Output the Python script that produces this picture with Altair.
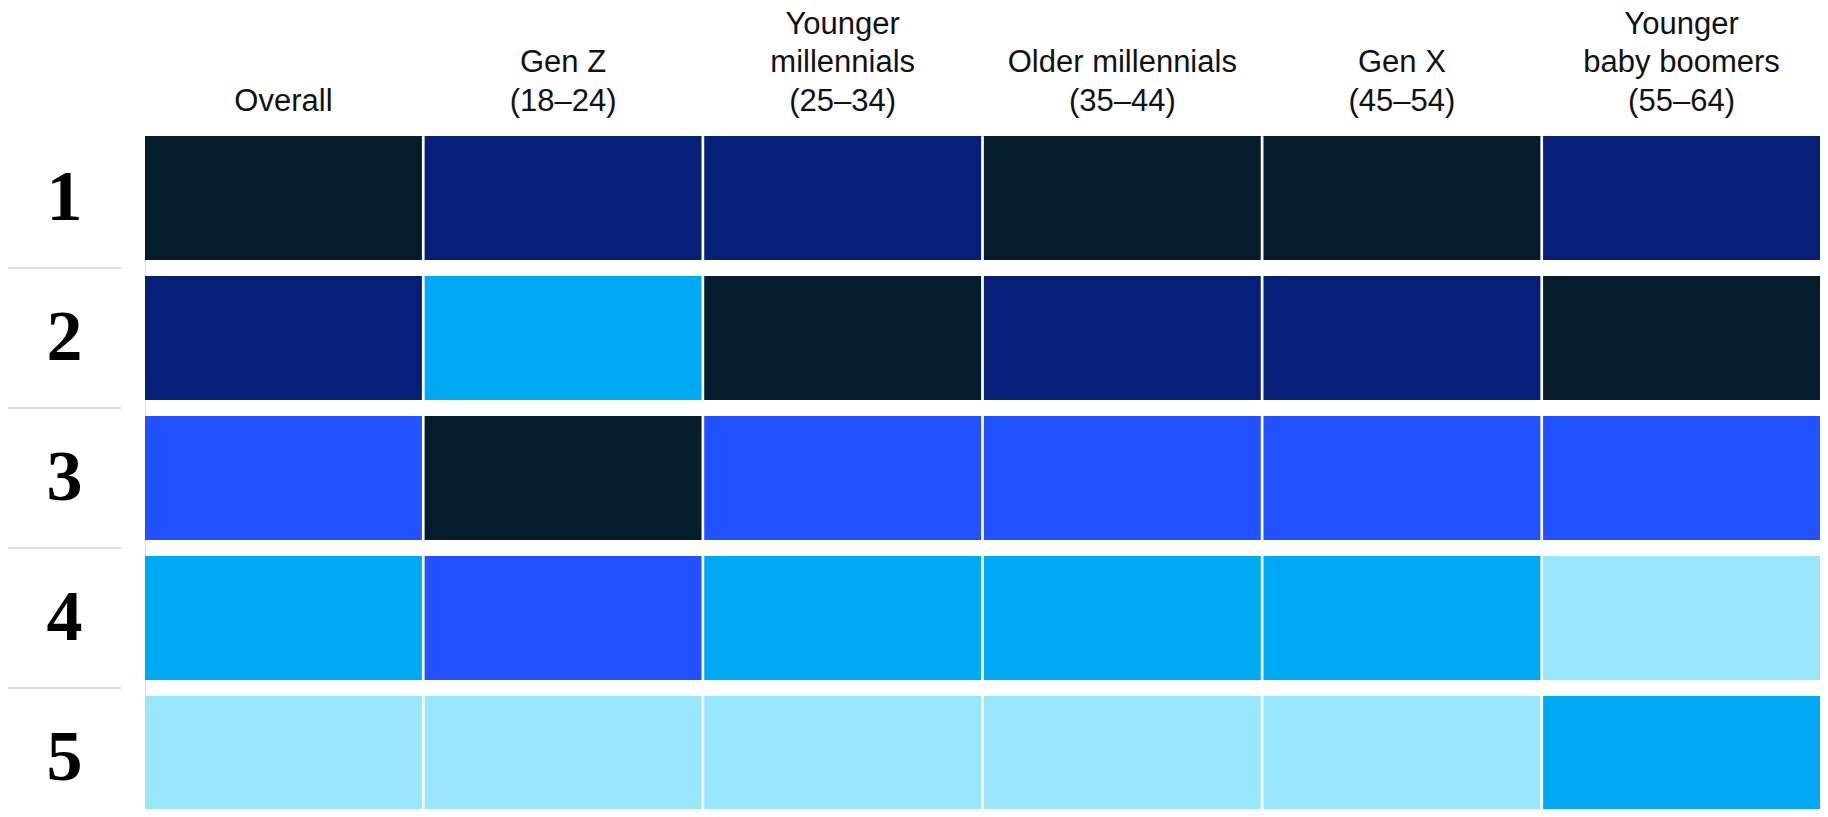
import altair as alt
import pandas as pd

# Column headers ("|" marks a line break)
columns = [
    "Overall",
    "Gen Z|(18–24)",
    "Younger|millennials|(25–34)",
    "Older millennials|(35–44)",
    "Gen X|(45–54)",
    "Younger|baby boomers|(55–64)",
]
ranks = [1, 2, 3, 4, 5]

# Item shown at each rank (1..5) for each column
overall = ["A", "B", "C", "D", "E"]
gen_z = ["B", "D", "A", "C", "E"]
younger_millennials = ["B", "A", "C", "D", "E"]
older_millennials = ["A", "B", "C", "D", "E"]
gen_x = ["A", "B", "C", "D", "E"]
younger_boomers = ["B", "A", "C", "E", "D"]

items = ["A", "B", "C", "D", "E"]
item_colors = ["#051C2C", "#061F79", "#2251FF", "#00A9F4", "#99E6FF"]

series = [overall, gen_z, younger_millennials, older_millennials, gen_x, younger_boomers]
rows = []
for col, vals in zip(columns, series):
    for r, it in zip(ranks, vals):
        rows.append({"group": col, "rank": r, "item": it})
df = pd.DataFrame(rows)
sep_df = pd.DataFrame({"rank": ranks[1:]})

# header lines, counted from the bottom line upwards
head_rows = []
for col in columns:
    lines = col.split("|")
    for k, line in enumerate(reversed(lines)):
        head_rows.append({"group": col, "line": line, "k": k})
head_df = pd.DataFrame(head_rows)

x_enc = alt.X(
    "group:N",
    sort=columns,
    scale=alt.Scale(paddingInner=0.0097, paddingOuter=0),
    axis=None,
)
y_scale = alt.Scale(range=[0, 684], paddingInner=16 / 140, paddingOuter=0)

cells = alt.Chart(df).mark_rect().encode(
    x=x_enc,
    y=alt.Y(
        "rank:O",
        scale=y_scale,
        axis=alt.Axis(
            title=None,
            domain=False,
            ticks=False,
            tickSize=0,
            labelFont="Liberation Serif",
            labelFontWeight="bold",
            labelFontSize=72,
            labelColor="#000000",
            labelAlign="center",
            labelBaseline="middle",
            labelPadding=81,
            grid=False,
        ),
    ),
    color=alt.Color(
        "item:N",
        scale=alt.Scale(domain=items, range=item_colors),
        legend=None,
    ),
)

separators = alt.Chart(sep_df).mark_rule(
    color="#cfcfcf", strokeWidth=1.5, yOffset=-8
).encode(
    y=alt.Y("rank:O", bandPosition=0, scale=y_scale),
    x=alt.value(-137),
    x2=alt.value(-24),
)

LINE_H = 38.5
header_layers = []
for k in range(3):
    header_layers.append(
        alt.Chart(head_df)
        .transform_filter(alt.datum.k == k)
        .mark_text(
            font="Liberation Sans",
            fontSize=31,
            color="#111111",
            align="center",
            baseline="alphabetic",
            dy=-LINE_H * k,
        )
        .encode(x=x_enc, y=alt.value(-25.5), text="line:N")
    )

chart = (
    alt.layer(cells, separators, *header_layers)
    .properties(
        width=1675,
        height=673,
        autosize=alt.AutoSizeParams(type="none"),
        padding={"left": 137, "top": 128, "right": 0, "bottom": 0},
    )
    .configure_view(stroke=None)
    .configure(background="white")
)

chart.save("out.html", embed_options={"renderer": "svg", "actions": False})
